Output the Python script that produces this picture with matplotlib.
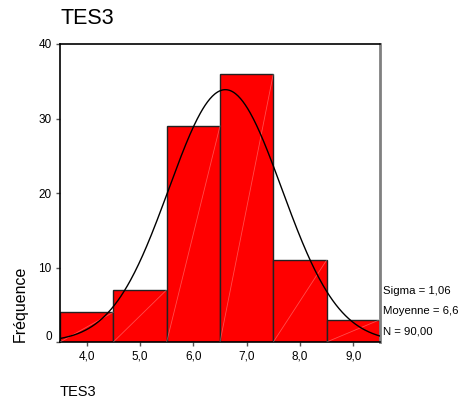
import numpy as np
import matplotlib
matplotlib.use("Agg")
import matplotlib.pyplot as plt
import matplotlib.transforms as mtransforms

plt.rcParams['font.family'] = ['Liberation Sans', 'DejaVu Sans']

# Data
bin_centers = [4.0, 5.0, 6.0, 7.0, 8.0, 9.0]
counts = [4, 7, 29, 36, 11, 3]
x_tick_labels = ["4,0", "5,0", "6,0", "7,0", "8,0", "9,0"]
y_ticks = [0, 10, 20, 30, 40]
sigma = 1.06
mean = 6.6
n_total = 90
stats_labels = ["Sigma = 1,06", "Moyenne = 6,6", "N = 90,00"]
title = "TES3"
xlabel = "TES3"
ylabel = "Fréquence"

W, H = 465, 403
fig = plt.figure(figsize=(W / 100, H / 100), dpi=100)
ax = fig.add_axes([60 / W, (H - 342) / H, 320 / W, 298 / H])

width = 1.0
ax.bar(bin_centers, counts, width=width, color='#ff0000', edgecolor='#222222',
       linewidth=1.0, zorder=2)
# faint diagonal rendering lines inside bars
for c, v in zip(bin_centers, counts):
    ax.plot([c - width / 2, c + width / 2], [0, v], color='white', alpha=0.3,
            linewidth=0.6, zorder=3)

xs = np.linspace(3.5, 9.5, 400)
ys = n_total * width * np.exp(-0.5 * ((xs - mean) / sigma) ** 2) / (sigma * np.sqrt(2 * np.pi))
ax.plot(xs, ys, color='black', linewidth=1.0, zorder=4)

ax.set_xlim(3.5, 9.5)
ax.set_ylim(0, 40)
ax.set_xticks(bin_centers)
ax.set_xticklabels(x_tick_labels, fontsize=8.5)
ax.set_yticks(y_ticks)
ax.set_yticklabels([str(t) for t in y_ticks], fontsize=8.5)
ax.tick_params(axis='both', direction='out', length=3, width=1, color='#555555', pad=3)

# shift the "0" label upward like the reference
offset = mtransforms.ScaledTranslation(0, 6 / 100, fig.dpi_scale_trans)
lbl0 = ax.get_yticklabels()[0]
lbl0.set_transform(lbl0.get_transform() + offset)

for s in ['left', 'bottom', 'top']:
    ax.spines[s].set_color('black')
    ax.spines[s].set_linewidth(1.2)
ax.spines['right'].set_color('#808080')
ax.spines['right'].set_linewidth(2.0)

fig.text(60 / W, 1 - 18 / H, title, fontsize=15.5, ha='left', va='center')
fig.text(60 / W, 1 - 392 / H, xlabel, fontsize=10.5, ha='left', va='center')
fig.text(20 / W, 1 - 342 / H, ylabel, fontsize=11.5, rotation=90, ha='center', va='bottom')

for i, s in enumerate(stats_labels):
    fig.text(383 / W, 1 - (291 + 20 * i) / H, s, fontsize=8.2, ha='left', va='center')

fig.savefig('out.png', dpi=100)
